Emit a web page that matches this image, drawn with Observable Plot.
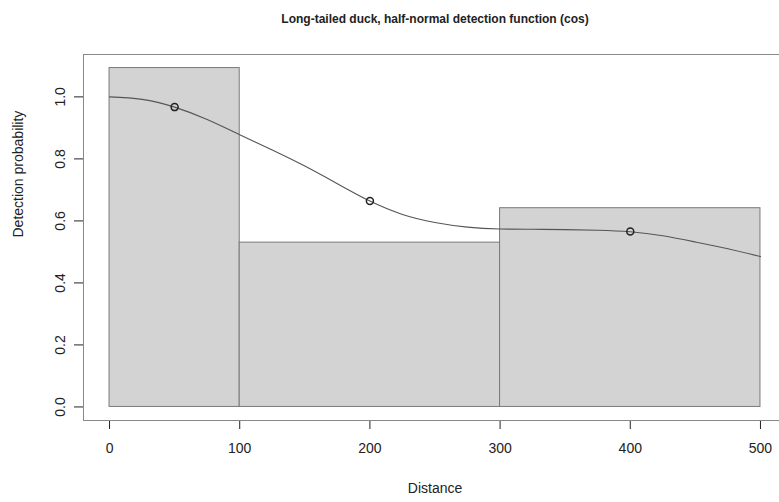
<!DOCTYPE html>
<html>
<head>
<meta charset="utf-8">
<script src="https://cdn.jsdelivr.net/npm/d3@7"></script>
<script src="https://cdn.jsdelivr.net/npm/@observablehq/plot@0.6"></script>
<style>
  html, body { margin: 0; padding: 0; background: #fff; }
  #chart { width: 779px; height: 502px; overflow: hidden; }
</style>
</head>
<body>
<div id="chart"></div>
<script>
// Histogram bins (distance intervals) and scaled heights
const binStart = [0, 100, 300];
const binEnd = [100, 300, 500];
const binHeight = [1.093, 0.530, 0.641];

// Fitted detection function (half-normal with cosine adjustment)
const curveDist = [0, 25, 50, 75, 100, 125, 150, 175, 200, 225, 250, 275, 300, 325, 350, 375, 400, 425, 450, 475, 500];
const curveProb = [1.0, 0.992, 0.967, 0.927, 0.878, 0.829, 0.777, 0.720, 0.664, 0.621, 0.595, 0.580, 0.574, 0.573, 0.572, 0.570, 0.565, 0.552, 0.532, 0.510, 0.485];

// Points at bin midpoints
const pointDist = [50, 200, 400];
const pointProb = [0.967, 0.664, 0.566];

// Axis ticks
const xTicks = [0, 100, 200, 300, 400, 500];
const yTicks = [0.0, 0.2, 0.4, 0.6, 0.8, 1.0];

const titleText = "Long-tailed duck, half-normal detection function (cos)";
const xLabel = "Distance";
const yLabel = "Detection probability";

const bins = binStart.map((s, i) => ({x1: s, x2: binEnd[i], h: binHeight[i]}));
const curve = curveDist.map((d, i) => ({d, p: curveProb[i]}));
const pts = pointDist.map((d, i) => ({d, p: pointProb[i]}));

const ymax = d3.max(binHeight);
const xpad = (d3.max(binEnd) - d3.min(binStart)) * 0.04;
const ypad = ymax * 0.04;

const chart = Plot.plot({
  width: 779,
  height: 502,
  marginLeft: 83,
  marginRight: -7,
  marginTop: 54,
  marginBottom: 82,
  style: {fontFamily: "'Liberation Sans', Arial, sans-serif", fontSize: "14px", color: "#222", background: "#fff"},
  x: {domain: [d3.min(binStart) - xpad, d3.max(binEnd) + xpad], ticks: xTicks, tickSize: 9, tickPadding: 14, tickFormat: d => String(d), label: null},
  y: {domain: [-ypad, ymax + ypad], ticks: yTicks, tickSize: 9, tickPadding: 10, tickFormat: d3.format(".1f"), tickRotate: -90, label: null},
  marks: [
    Plot.rect(bins, {x1: "x1", x2: "x2", y1: () => 0, y2: "h", fill: "#d3d3d3", stroke: "#7a7a7a", strokeWidth: 1}),
    Plot.line(curve, {x: "d", y: "p", stroke: "#555", strokeWidth: 1.1, curve: "natural"}),
    Plot.dot(pts, {x: "d", y: "p", r: 3.5, stroke: "#222", strokeWidth: 1.5, fill: "none"}),
    Plot.frame({stroke: "#888"}),
    Plot.text([titleText], {frameAnchor: "top", dy: -40, text: d => d, fontSize: 12, fontWeight: "bold", fill: "#222"}),
    Plot.text([xLabel], {frameAnchor: "bottom", dy: 72, text: d => d, fontSize: 14, fill: "#222"}),
    Plot.text([yLabel], {frameAnchor: "left", dx: -65, rotate: -90, text: d => d, fontSize: 14, fill: "#222"})
  ]
});
document.getElementById("chart").appendChild(chart);
</script>
</body>
</html>
